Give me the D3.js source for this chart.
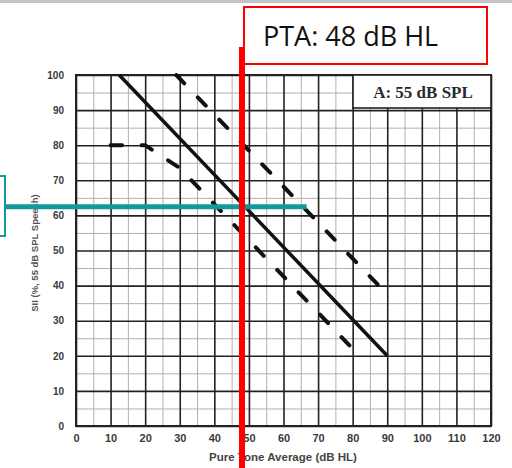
<!DOCTYPE html>
<html>
<head>
<meta charset="utf-8">
<script src="https://cdn.jsdelivr.net/npm/d3@7"></script>
<style>
  html, body { margin: 0; padding: 0; background: #fff; }
  svg { display: block; }
</style>
</head>
<body>
<svg id="chart" width="512" height="468"></svg>
<script>
// Axis ticks
const xTicks = [0, 10, 20, 30, 40, 50, 60, 70, 80, 90, 100, 110, 120];
const yTicks = [0, 10, 20, 30, 40, 50, 60, 70, 80, 90, 100];

// SII vs PTA curves (x: PTA dB HL, y: SII %)
const solidPTA = [12.5, 90];
const solidSII = [100, 20];
const upperPTA = [29, 89];
const upperSII = [100, 38.5];
const lowerPTA = [10, 20, 30, 80];
const lowerSII = [80, 80, 73.5, 22];

// Reading for the current listener
const ptaValue = 48;
const siiValue = 62.5;
const siiUpperAtValue = 66.7;

const svg = d3.select("#chart");
const W = 512, H = 468;

const x = d3.scaleLinear().domain([0, 120]).range([76, 491]);
const y = d3.scaleLinear().domain([0, 100]).range([426, 75]);

// light rule across the top of the page
svg.append("rect").attr("x", 0).attr("y", 0).attr("width", W).attr("height", 3).attr("fill", "#c4c4c4");

const plot = svg.append("g");

// minor grid every 5
const minorX = d3.range(5, 120, 10);
const minorY = d3.range(5, 100, 10);
plot.append("g").attr("transform", `translate(0,${y(0)})`)
  .call(d3.axisBottom(x).tickValues(minorX).tickSize(-(y(0) - y(100))).tickFormat(""))
  .call(g => g.select(".domain").remove())
  .call(g => g.selectAll("line").attr("stroke", "#b0b0b0").attr("stroke-width", 1));
plot.append("g").attr("transform", `translate(${x(0)},0)`)
  .call(d3.axisLeft(y).tickValues(minorY).tickSize(-(x(120) - x(0))).tickFormat(""))
  .call(g => g.select(".domain").remove())
  .call(g => g.selectAll("line").attr("stroke", "#b0b0b0").attr("stroke-width", 1));

// major grid every 10
plot.append("g").attr("transform", `translate(0,${y(0)})`)
  .call(d3.axisBottom(x).tickValues(xTicks).tickSize(-(y(0) - y(100))).tickFormat(""))
  .call(g => g.select(".domain").remove())
  .call(g => g.selectAll("line").attr("stroke", "#222").attr("stroke-width", 1.6));
plot.append("g").attr("transform", `translate(${x(0)},0)`)
  .call(d3.axisLeft(y).tickValues(yTicks).tickSize(-(x(120) - x(0))).tickFormat(""))
  .call(g => g.select(".domain").remove())
  .call(g => g.selectAll("line").attr("stroke", "#222").attr("stroke-width", 1.6));

// frame
plot.append("rect")
  .attr("x", x(0)).attr("y", y(100))
  .attr("width", x(120) - x(0)).attr("height", y(0) - y(100))
  .attr("fill", "none").attr("stroke", "#222").attr("stroke-width", 2);

// tick labels
const tickFont = "'Liberation Sans', Arial, sans-serif";
svg.append("g").attr("transform", `translate(0,${y(0)})`)
  .call(d3.axisBottom(x).tickValues(xTicks).tickSize(0).tickPadding(8))
  .call(g => g.select(".domain").remove())
  .call(g => g.selectAll("text").attr("font-family", tickFont).attr("font-size", 11)
    .attr("font-weight", "bold").attr("fill", "#3a3a3a"));
svg.append("g").attr("transform", `translate(${x(0)},0)`)
  .call(d3.axisLeft(y).tickValues(yTicks).tickSize(0).tickPadding(12))
  .call(g => g.select(".domain").remove())
  .call(g => g.selectAll("text").attr("font-family", tickFont).attr("font-size", 10)
    .attr("font-weight", "bold").attr("fill", "#3a3a3a"));

// axis titles
svg.append("text")
  .attr("x", 283).attr("y", 461)
  .attr("text-anchor", "middle")
  .attr("font-family", tickFont).attr("font-size", 11.5).attr("font-weight", "bold")
  .attr("fill", "#444")
  .text("Pure Tone Average (dB HL)");
svg.append("text")
  .attr("transform", "translate(38,253) rotate(-90)")
  .attr("text-anchor", "middle")
  .attr("font-family", tickFont).attr("font-size", 9.5).attr("font-weight", "bold")
  .attr("fill", "#555")
  .text("SII (%, 55 dB SPL Speech)");

// legend box
svg.append("rect")
  .attr("x", 353).attr("y", y(100))
  .attr("width", x(120) - 353).attr("height", 33)
  .attr("fill", "#fff").attr("stroke", "#222").attr("stroke-width", 1.6);
svg.append("text")
  .attr("x", 423).attr("y", 98)
  .attr("text-anchor", "middle")
  .attr("font-family", "'Liberation Serif', 'Times New Roman', serif")
  .attr("font-size", 17).attr("font-weight", "bold").attr("fill", "#2a2a2a")
  .text("A: 55 dB SPL");

// curves
const line = d3.line().x(d => x(d[0])).y(d => y(d[1]));
const solid = d3.zip(solidPTA, solidSII);
const upper = d3.zip(upperPTA, upperSII);
const lower = d3.zip(lowerPTA, lowerSII);

svg.append("path").datum(solid).attr("d", line)
  .attr("fill", "none").attr("stroke", "#111").attr("stroke-width", 3.5);
[upper, lower].forEach(pts => {
  svg.append("path").datum(pts).attr("d", line)
    .attr("fill", "none").attr("stroke", "#111").attr("stroke-width", 4)
    .attr("stroke-linecap", "round").attr("stroke-dasharray", "11.5,19.5");
});

// teal marker at the SII reading
const teal = "#129a9a";
svg.append("rect")
  .attr("x", -10).attr("y", 176).attr("width", 15).attr("height", 60)
  .attr("fill", "none").attr("stroke", teal).attr("stroke-width", 2);
svg.append("line")
  .attr("x1", 5).attr("x2", x(siiUpperAtValue))
  .attr("y1", y(siiValue)).attr("y2", y(siiValue))
  .attr("stroke", teal).attr("stroke-width", 5);

// red marker at the PTA
svg.append("line")
  .attr("x1", x(ptaValue)).attr("x2", x(ptaValue))
  .attr("y1", 47).attr("y2", H)
  .attr("stroke", "#ff0000").attr("stroke-width", 6);
svg.append("rect")
  .attr("x", 244).attr("y", 7).attr("width", 243).attr("height", 57)
  .attr("fill", "#fff").attr("stroke", "#ff0000").attr("stroke-width", 2);
svg.append("text")
  .attr("x", 263).attr("y", 46)
  .attr("font-family", "'Open Sans', sans-serif").attr("font-size", 27)
  .attr("fill", "#111")
  .text(`PTA: ${ptaValue} dB HL`);
</script>
</body>
</html>
